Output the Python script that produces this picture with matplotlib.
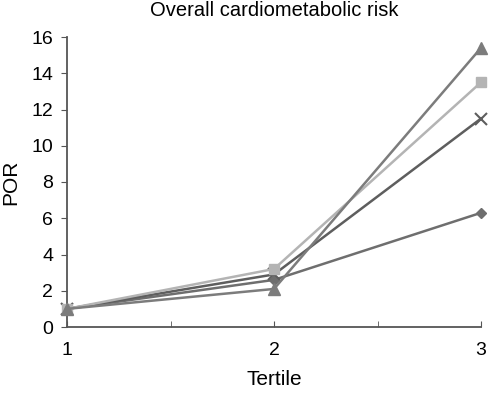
import matplotlib
matplotlib.use("Agg")
import matplotlib.pyplot as plt
from matplotlib.ticker import MultipleLocator

plt.rcParams['font.family'] = ['Liberation Sans', 'DejaVu Sans']

tertiles = [1, 2, 3]
series_triangle = [1.0, 2.1, 15.4]
series_square = [1.0, 3.2, 13.5]
series_cross = [1.0, 2.9, 11.5]
series_diamond = [1.0, 2.6, 6.3]

fig = plt.figure(figsize=(4.93, 3.96), dpi=100)
ax = fig.add_axes([67/493, 1-327/396, (481-67)/493, (327-37)/396])

ax.plot(tertiles, series_diamond, color="#6e6e6e", lw=1.8, marker="D", ms=5, zorder=3)
ax.plot(tertiles, series_cross, color="#5e5e5e", lw=1.8, marker="x", ms=8, mew=1.5, zorder=3)
ax.plot(tertiles, series_square, color="#b4b4b4", lw=1.8, marker="s", ms=7, zorder=3)
ax.plot(tertiles, series_triangle, color="#7c7c7c", lw=1.8, marker="^", ms=8, zorder=3)

ax.set_xlim(1, 3)
ax.set_ylim(0, 16)
ax.set_xticks([1, 2, 3])
ax.xaxis.set_minor_locator(MultipleLocator(0.5))
ax.set_yticks(range(0, 17, 2))
for s in ["top", "right"]:
    ax.spines[s].set_visible(False)
for s in ["left", "bottom"]:
    ax.spines[s].set_color("#555555")
    ax.spines[s].set_linewidth(1.3)
ax.tick_params(axis="y", direction="out", length=4, color="#555555", labelsize=14, pad=6)
ax.tick_params(axis="x", which="both", direction="in", length=4, color="#555555", labelsize=14, pad=11)
ax.set_xlabel("Tertile", fontsize=15, labelpad=8)
ax.set_ylabel("POR", fontsize=15, labelpad=8)
fig.text(274/493, 1-11/396, "Overall cardiometabolic risk", fontsize=14.5, ha="center", va="center")
for l in ax.lines:
    l.set_clip_on(False)

fig.savefig("out.png", dpi=100)
